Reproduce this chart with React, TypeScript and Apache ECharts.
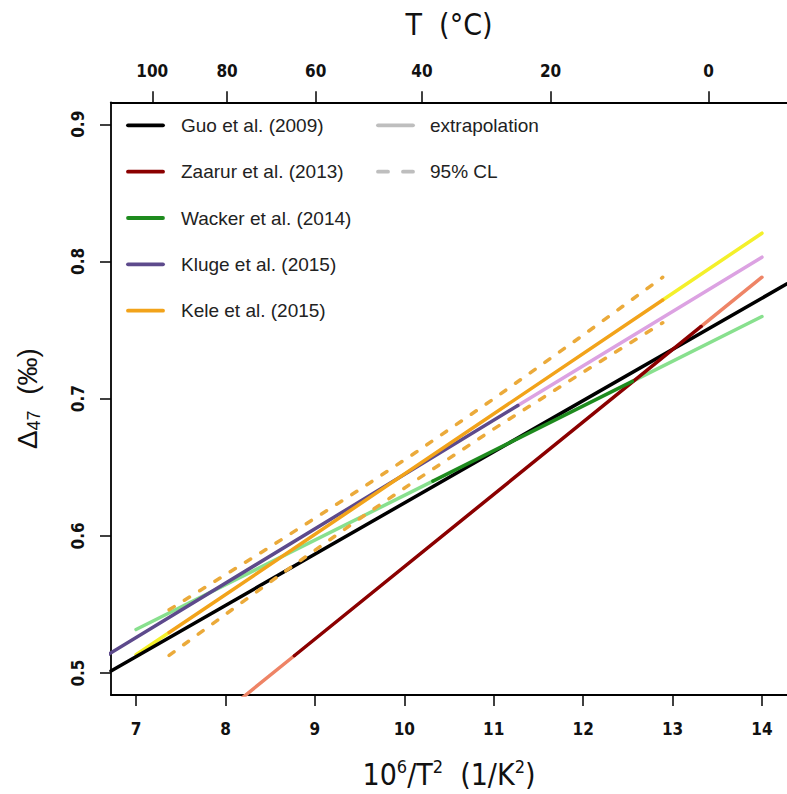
import React, { useEffect, useRef } from "react";
import * as echarts from "echarts";

// ---- axis ticks ----
const xTicks = [7, 8, 9, 10, 11, 12, 13, 14];
const yTicks = [0.5, 0.6, 0.7, 0.8, 0.9];
const tempTicks = [100, 80, 60, 40, 20, 0];

// ---- calibrations (x = 10^6/T^2, y = Δ47) ----
const guoCal = [[6.72, 0.5015], [14.28, 0.7837]];

const zaarurCal = [[8.77, 0.5126], [13.32, 0.7526]];
const zaarurExtLow = [[8.0, 0.472], [8.77, 0.5126]];
const zaarurExtHigh = [[13.32, 0.7526], [14.0, 0.7885]];

const wackerCal = [[10.32, 0.6399], [12.55, 0.7126]];
const wackerExtLow = [[7.0, 0.5317], [10.32, 0.6399]];
const wackerExtHigh = [[12.55, 0.7126], [14.0, 0.7599]];

const klugeCal = [[6.5, 0.5061], [11.27, 0.695]];
const klugeExtHigh = [[11.27, 0.695], [14.0, 0.8031]];

const keleCal = [[7.37, 0.5295], [12.89, 0.7719]];
const keleExtLow = [[7.0, 0.5133], [7.37, 0.5295]];
const keleExtHigh = [[12.89, 0.7719], [14.0, 0.8206]];

const keleClX = [7.37, 8.5, 9.5, 10.13, 11, 12, 12.89];
const keleClUpper = [0.5461, 0.592, 0.6337, 0.6609, 0.6999, 0.7463, 0.7885];
const keleClLower = [0.5129, 0.5664, 0.6125, 0.6405, 0.6779, 0.7193, 0.7553];

const legendNames = [
  "Guo et al. (2009)",
  "Zaarur et al. (2013)",
  "Wacker et al. (2014)",
  "Kluge et al. (2015)",
  "Kele et al. (2015)",
];
const legendColors = ["#000000", "#8B0000", "#1E8B1E", "#5D4A8C", "#F2A31A"];
const legendExtra = ["extrapolation", "95% CL"];

const C = {
  salmon: "#EE8466",
  lightGreen: "#88E08E",
  plum: "#DCA2E2",
  yellow: "#F4F02A",
  cl: "#EBAA3A",
  gray: "#BEBEBE",
};

const NARROW = "'Liberation Sans Narrow', 'DejaVu Sans Condensed', sans-serif";
const SANS = "'Liberation Sans', Arial, sans-serif";

function seg(name: string, data: number[][], color: string, z: number, dash?: number[]) {
  return {
    name,
    type: "line",
    data,
    showSymbol: false,
    symbol: "none",
    clip: true,
    z,
    silent: true,
    lineStyle: {
      color,
      width: 3.5,
      cap: "round",
      join: "round",
      type: dash ? dash : "solid",
    },
  };
}

export default function App() {
  const ref = useRef<HTMLDivElement>(null);
  useEffect(() => {
    const chart = echarts.init(ref.current!, null, { renderer: "svg" });

    const topVals = tempTicks.map((t) => 1e6 / Math.pow(t + 273.15, 2));
    const tickStyle = { show: true, inside: false, length: 11, lineStyle: { color: "#000", width: 1.5 } };
    const lineStyle = { show: true, lineStyle: { color: "#000", width: 1.8 } };
    const labelFont = { fontFamily: NARROW, fontWeight: "bold" as const, fontSize: 17, color: "#111" };

    const legendGraphics: any[] = [];
    legendNames.forEach((n, i) => {
      const y = 125.3 + i * 46.35;
      legendGraphics.push({
        type: "line",
        shape: { x1: 128, y1: y, x2: 163, y2: y },
        style: { stroke: legendColors[i], lineWidth: 3.8, lineCap: "round" },
      });
      legendGraphics.push({
        type: "text",
        x: 181,
        y,
        style: { text: n, fontFamily: SANS, fontSize: 19, fill: "#222", verticalAlign: "middle" },
      });
    });
    legendExtra.forEach((n, i) => {
      const y = 125.3 + i * 46.35;
      legendGraphics.push({
        type: "line",
        shape: { x1: 378, y1: y, x2: 413, y2: y },
        style: {
          stroke: C.gray,
          lineWidth: 3.8,
          lineCap: "round",
          lineDash: i === 1 ? [10, 15] : null,
        },
      });
      legendGraphics.push({
        type: "text",
        x: 430,
        y,
        style: { text: n, fontFamily: SANS, fontSize: 19, fill: "#222", verticalAlign: "middle" },
      });
    });

    const option: any = {
      animation: false,
      backgroundColor: "#fff",
      grid: { left: 111, top: 102.3, width: 685.4, height: 597, show: false },
      xAxis: [
        {
          type: "value",
          position: "bottom",
          min: 6.72,
          max: 14.28,
          axisLine: lineStyle,
          axisTick: { ...tickStyle, customValues: xTicks },
          axisLabel: { ...labelFont, margin: 25, customValues: xTicks, formatter: (v: number) => String(v) },
          splitLine: { show: false },
          name: "{a|10}{s|6}{a|/T}{s|2}{a|  (1/K}{s|2}{a|)}",
          nameLocation: "middle",
          nameGap: 62,
          nameTextStyle: {
            rich: {
              a: { fontFamily: NARROW, fontSize: 30, color: "#111" },
              s: { fontFamily: NARROW, fontSize: 18, color: "#111", padding: [0, 0, 16, 0] },
            },
          },
        },
        {
          type: "value",
          position: "top",
          min: 6.72,
          max: 14.28,
          axisLine: lineStyle,
          axisTick: { ...tickStyle, customValues: topVals },
          axisLabel: {
            ...labelFont,
            margin: 23,
            customValues: topVals,
            formatter: (v: number) => String(Math.round(Math.sqrt(1e6 / v) - 273.15)),
          },
          splitLine: { show: false },
          name: "T  (°C)",
          nameLocation: "middle",
          nameGap: 63,
          nameTextStyle: { fontFamily: NARROW, fontSize: 30, color: "#111" },
        },
      ],
      yAxis: {
        type: "value",
        min: 0.484,
        max: 0.916,
        axisLine: lineStyle,
        axisTick: { ...tickStyle, customValues: yTicks },
        axisLabel: {
          ...labelFont,
          rotate: 90,
          margin: 25,
          customValues: yTicks,
          formatter: (v: number) => v.toFixed(1),
        },
        splitLine: { show: false },
        name: "{d|Δ}{s|47}{n|  (‰)}",
        nameLocation: "middle",
        nameRotate: 90,
        nameGap: 68,
        nameTextStyle: {
          rich: {
            d: { fontFamily: SANS, fontSize: 28, color: "#111" },
            s: { fontFamily: SANS, fontSize: 18, color: "#111", padding: [14, 0, 0, 0] },
            n: { fontFamily: SANS, fontSize: 28, color: "#111" },
          },
        },
      },
      graphic: legendGraphics,
      series: [
        seg("Zaarur extrapolation low", zaarurExtLow, C.salmon, 1),
        seg("Zaarur extrapolation high", zaarurExtHigh, C.salmon, 1),
        seg("Wacker extrapolation low", wackerExtLow, C.lightGreen, 1),
        seg("Wacker extrapolation high", wackerExtHigh, C.lightGreen, 1),
        seg("Kluge extrapolation", klugeExtHigh, C.plum, 1),
        seg("Kele extrapolation low", keleExtLow, C.yellow, 1),
        seg("Kele extrapolation high", keleExtHigh, C.yellow, 1),
        seg(legendNames[0], guoCal, legendColors[0], 2),
        seg(legendNames[1], zaarurCal, legendColors[1], 3),
        seg(legendNames[2], wackerCal, legendColors[2], 3),
        seg(legendNames[3], klugeCal, legendColors[3], 3),
        seg(legendNames[4], keleCal, legendColors[4], 3),
        seg("Kele 95% CL upper", keleClX.map((x, i) => [x, keleClUpper[i]]), C.cl, 4, [6, 12]),
        seg("Kele 95% CL lower", keleClX.map((x, i) => [x, keleClLower[i]]), C.cl, 4, [6, 12]),
      ],
    };

    chart.setOption(option);
    return () => chart.dispose();
  }, []);
  return (
    <div
      ref={ref}
      style={{ position: "absolute", left: 0, top: 0, width: 787, height: 794, background: "#fff" }}
    />
  );
}
